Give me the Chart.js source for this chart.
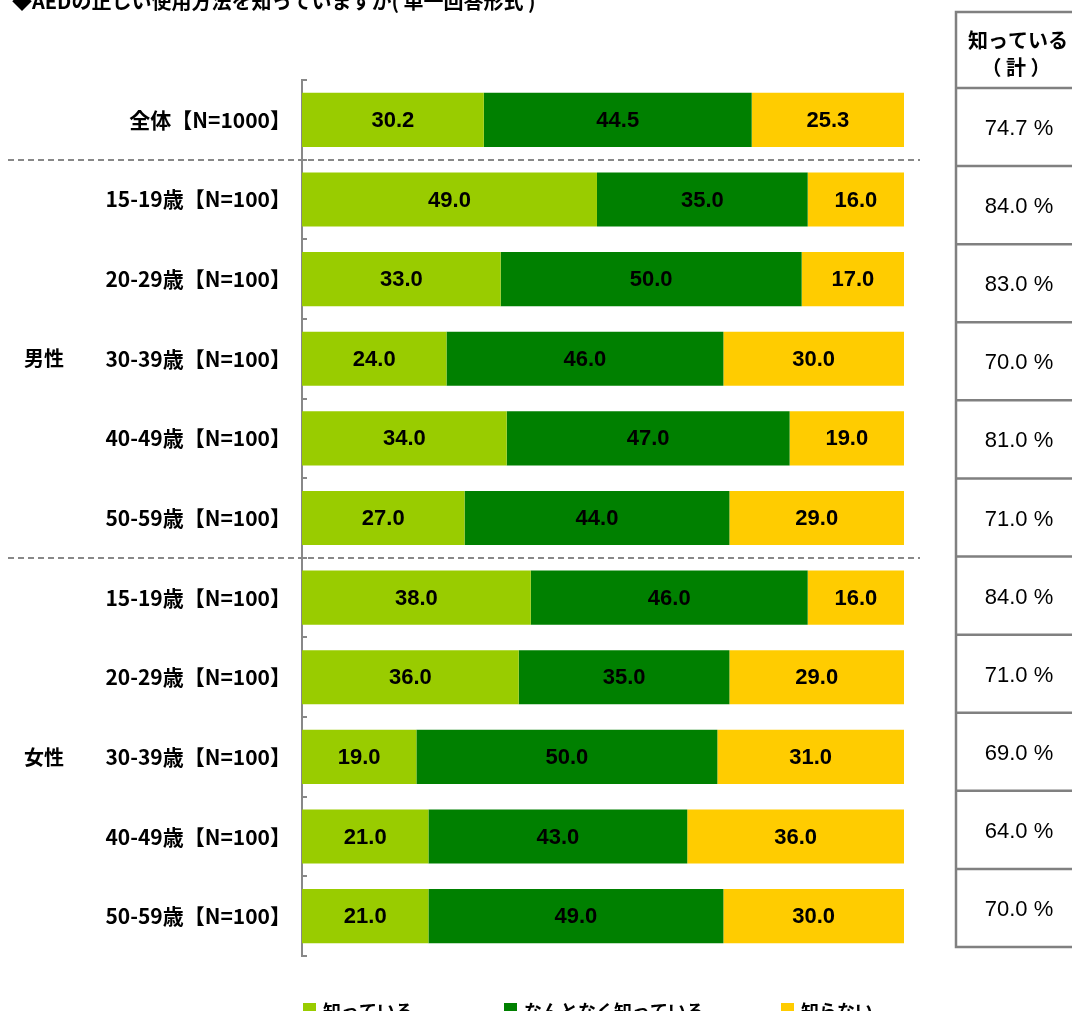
<!DOCTYPE html>
<html><head><meta charset="utf-8">
<script src="https://cdn.jsdelivr.net/npm/chart.js"></script>
<style>html,body{margin:0;padding:0;background:#fff;overflow:hidden;}canvas{display:block;}</style>
</head><body>
<canvas id="c" width="1072" height="1011"></canvas>
<script>
const titleText = '◆AEDの正しい使用方法を知っていますか( 単一回答形式 )';
const categories = ['全体【N=1000】','15-19歳【N=100】','20-29歳【N=100】','30-39歳【N=100】','40-49歳【N=100】','50-59歳【N=100】','15-19歳【N=100】','20-29歳【N=100】','30-39歳【N=100】','40-49歳【N=100】','50-59歳【N=100】'];
const seriesNames = ['知っている','なんとなく知っている','知らない'];
const known    = [30.2,49.0,33.0,24.0,34.0,27.0,38.0,36.0,19.0,21.0,21.0];
const somewhat = [44.5,35.0,50.0,46.0,47.0,44.0,46.0,35.0,50.0,43.0,49.0];
const unknown  = [25.3,16.0,17.0,30.0,19.0,29.0,16.0,29.0,31.0,36.0,30.0];
const tableHeader = ['知っている','（ 計 ）'];
const knownTotal = [74.7,84.0,83.0,70.0,81.0,71.0,84.0,71.0,69.0,64.0,70.0];
const groupLabels = ['男性','女性'];
const groupFrom = [1,6];
const groupTo = [5,10];
const separatorsAfter = [0,5];

const colors = ['#99CC00','#008000','#FFCC00'];
const JP = '"Noto Sans CJK JP","Noto Sans",sans-serif';
const NUM = '"Liberation Sans","Noto Sans",sans-serif';

const decor = {
  id:'decor',
  afterDatasetsDraw(chart){
    const ctx = chart.ctx;
    ctx.save();
    ctx.fillStyle = '#000';
    ctx.font = 'bold 22px ' + NUM;
    ctx.textAlign = 'center';
    ctx.textBaseline = 'middle';
    chart.data.datasets.forEach((ds,di)=>{
      const meta = chart.getDatasetMeta(di);
      meta.data.forEach((el,i)=>{
        const v = ds.data[i];
        ctx.fillText(v.toFixed(1), (el.x+el.base)/2, el.y+1);
      });
    });
    ctx.restore();
  },
  afterDraw(chart){
    const ctx = chart.ctx;
    const y = chart.scales.y;
    const area = chart.chartArea;
    const n = categories.length;
    const step = (area.bottom-area.top)/n;
    ctx.save();
    // tick stubs
    ctx.strokeStyle = '#888'; ctx.lineWidth = 2;
    for(let i=0;i<=n;i++){
      const yy = Math.round(area.top + i*step);
      ctx.beginPath(); ctx.moveTo(area.left, yy); ctx.lineTo(area.left+5, yy); ctx.stroke();
    }
    // dashed separators
    ctx.setLineDash([6,4]);
    separatorsAfter.forEach(k=>{
      const yy = Math.round((y.getPixelForValue(k)+y.getPixelForValue(k+1))/2);
      ctx.beginPath(); ctx.moveTo(8, yy); ctx.lineTo(920, yy); ctx.stroke();
    });
    ctx.setLineDash([]);
    // group labels
    ctx.fillStyle = '#000';
    ctx.font = 'bold 20px ' + JP;
    ctx.textAlign = 'center'; ctx.textBaseline = 'middle';
    groupLabels.forEach((g,i)=>{
      const yy = (y.getPixelForValue(groupFrom[i])+y.getPixelForValue(groupTo[i]))/2;
      ctx.fillText(g, 44, yy);
    });
    // title
    ctx.textAlign = 'left'; ctx.textBaseline = 'alphabetic';
    ctx.font = 'bold 20px ' + JP;
    ctx.fillText(titleText, 12, 9);
    // legend
    const lx = [303,504,781];
    ctx.font = 'bold 18px ' + JP;
    ctx.textBaseline = 'middle';
    seriesNames.forEach((s,i)=>{
      ctx.fillStyle = colors[i];
      ctx.fillRect(lx[i], 1003, 13, 13);
      ctx.fillStyle = '#000';
      ctx.fillText(s, lx[i]+20, 1011);
    });
    // table
    const tL = 956, tR = 1090, tTop = 12, hBot = 88, tBot = 947;
    const rh = (tBot-hBot)/n;
    ctx.strokeStyle = '#808080'; ctx.lineWidth = 2.5;
    ctx.beginPath();
    ctx.moveTo(tR, tTop); ctx.lineTo(tL, tTop); ctx.lineTo(tL, tBot); ctx.lineTo(tR, tBot);
    ctx.moveTo(tL, hBot); ctx.lineTo(tR, hBot);
    for(let i=1;i<n;i++){ const yy = hBot + i*rh; ctx.moveTo(tL, yy); ctx.lineTo(tR, yy); }
    ctx.stroke();
    ctx.fillStyle = '#000';
    ctx.textAlign = 'center';
    ctx.font = 'bold 20px ' + JP;
    ctx.fillText(tableHeader[0], 1018, 40);
    ctx.fillText(tableHeader[1], 1016, 67);
    ctx.font = '22px ' + NUM;
    knownTotal.forEach((v,i)=>{
      ctx.fillText(v.toFixed(1)+' %', 1019, hBot + (i+0.5)*rh + 2);
    });
    ctx.restore();
  }
};

new Chart(document.getElementById('c'), {
  type:'bar',
  data:{
    labels:categories,
    datasets:[
      {label:seriesNames[0], data:known, backgroundColor:colors[0]},
      {label:seriesNames[1], data:somewhat, backgroundColor:colors[1]},
      {label:seriesNames[2], data:unknown, backgroundColor:colors[2]}
    ]
  },
  options:{
    responsive:false, animation:false, indexAxis:'y',
    devicePixelRatio:1,
    layout:{padding:{top:80,bottom:55,left:0,right:168}},
    datasets:{bar:{barPercentage:0.85, categoryPercentage:0.8, borderWidth:0}},
    plugins:{legend:{display:false}, tooltip:{enabled:false}, title:{display:false}},
    scales:{
      x:{stacked:true, min:0, max:100, display:false},
      y:{stacked:true,
         grid:{display:false, drawTicks:false},
         border:{display:true, color:'#888', width:2},
         ticks:{color:'#000', padding:11, font:{family:JP, weight:'bold', size:21}},
         afterFit(s){ s.width = 302; }
      }
    }
  },
  plugins:[decor]
});
</script>
</body></html>
